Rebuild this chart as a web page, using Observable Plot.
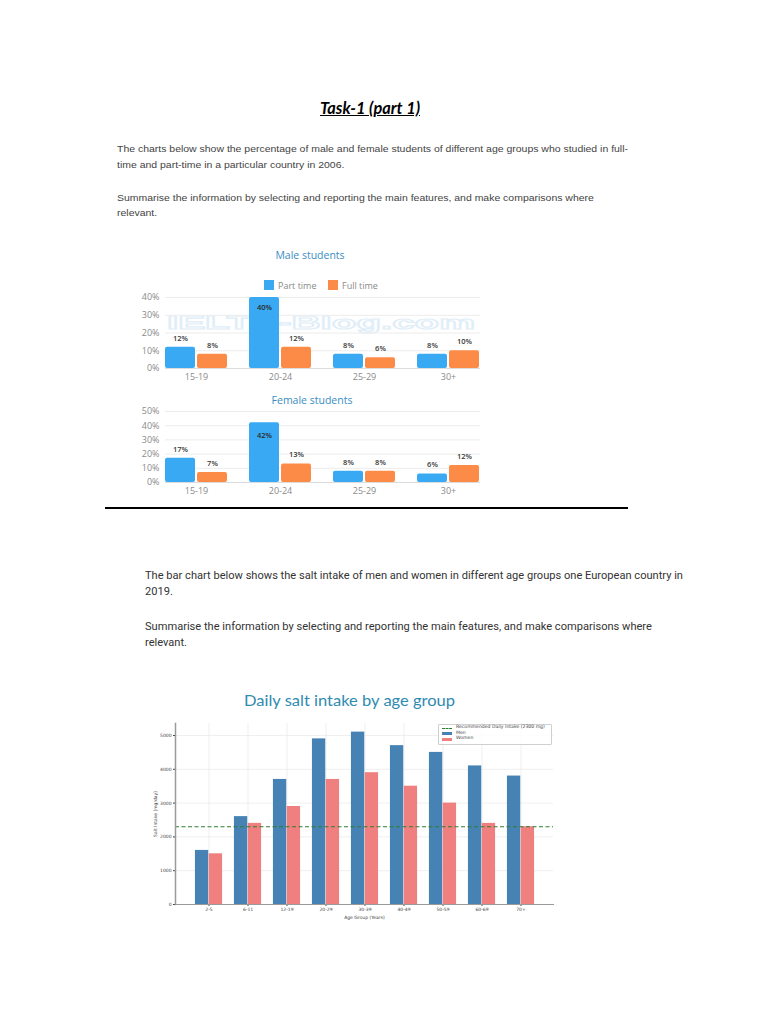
<!DOCTYPE html>
<html><head><meta charset="utf-8">
<script src="https://cdn.jsdelivr.net/npm/d3@7"></script>
<script src="https://cdn.jsdelivr.net/npm/@observablehq/plot@0.6"></script>
<style>
body{margin:0;background:#fff;}
#page{position:relative;width:768px;height:1024px;overflow:hidden;background:#fff;}
.abs{position:absolute;white-space:nowrap;}
.chart{position:absolute;}
</style></head><body><div id="page"></div>
<script>
// ---- data: student charts ----
const ageGroups = ["15-19", "20-24", "25-29", "30+"];
const studentSeries = ["Part time", "Full time"];
const malePartTime = [12, 40, 8, 8];
const maleFullTime = [8, 12, 6, 10];
const femalePartTime = [17, 42, 8, 6];
const femaleFullTime = [7, 13, 8, 12];
const maleTicks = [0, 10, 20, 30, 40];
const femaleTicks = [0, 10, 20, 30, 40, 50];

// ---- data: salt chart ----
const saltAgeGroups = ["2-5", "6-11", "12-19", "20-29", "30-39", "40-49", "50-59", "60-69", "70+"];
const menIntake = [1600, 2600, 3700, 4900, 5100, 4700, 4500, 4100, 3800];
const womenIntake = [1500, 2400, 2900, 3700, 3900, 3500, 3000, 2400, 2300];
const recommendedIntake = 2300;
const saltTicks = [0, 1000, 2000, 3000, 4000, 5000];

const page = document.getElementById("page");

function putText(txt, o) {
  const d = document.createElement("div");
  d.className = "abs";
  d.textContent = txt;
  const size = o.size;
  Object.assign(d.style, {
    fontSize: size + "px", lineHeight: size + "px",
    fontFamily: o.family || "'Liberation Sans', Arial, sans-serif",
    color: o.color || "#333", fontWeight: o.weight || "normal",
    fontStyle: o.style || "normal", textDecoration: o.deco || "none",
    top: (o.y - size * 0.55) + "px"
  });
  if (o.extra) Object.assign(d.style, o.extra);
  page.appendChild(d);
  const w = d.getBoundingClientRect().width;
  const s = o.scale != null ? o.scale : (o.width ? o.width / w : 1);
  d.style.left = (o.center ? o.x - w * s / 2 : o.x) + "px";
  d.style.transformOrigin = "0 50%";
  d.style.transform = `scaleX(${s})`;
  return s;
}

function place(el, left, top) {
  el.classList.add("chart");
  el.style.left = left + "px";
  el.style.top = top + "px";
  page.appendChild(el);
}

// ---- document text, part 1 ----
putText("Task-1 (part 1)", {x: 370, y: 108, size: 17, center: true, width: 100, color: "#000",
  family: "Lato, 'Open Sans', sans-serif", weight: "bold", style: "italic", deco: "underline"});
let s1 = putText("The charts below show the percentage of male and female students of different age groups who studied in full-",
  {x: 117, y: 149, size: 9.5, width: 511, color: "#444"});
putText("time and part-time in a particular country in 2006.", {x: 117, y: 165, size: 9.5, scale: s1, color: "#444"});
putText("Summarise the information by selecting and reporting the main features, and make comparisons where",
  {x: 117, y: 198, size: 9.5, scale: s1, color: "#444"});
putText("relevant.", {x: 117, y: 213, size: 9.5, scale: s1, color: "#444"});

// ---- watermark (faint, behind the male chart) ----
putText("IELTS-Blog.com", {x: 167, y: 323, size: 19, width: 308, color: "rgba(255,255,255,0)", weight: "bold",
  extra: {webkitTextStroke: "1.2px #dfeef8"}});

// ---- student charts ----
const barColors = {"Part time": "#39a9f3", "Full time": "#fc8b47"};

function studentChart(part, full, ticks, height, marginTop, maxDy) {
  const data = ageGroups.flatMap((g, i) => [
    {age: g, series: studentSeries[0], value: part[i]},
    {age: g, series: studentSeries[1], value: full[i]}
  ]);
  const vmax = d3.max(data, d => d.value);
  const outer = 11, barW = 30, gap = 2, step = 84;
  const marks = [
    Plot.gridY(ticks, {stroke: "#ececec", strokeOpacity: 1, insetLeft: outer, insetRight: outer - 1}),
    Plot.ruleY([0], {stroke: "#dcdcdc", insetLeft: outer, insetRight: outer - 1}),
    Plot.axisY(ticks, {tickSize: 0, tickPadding: -5, tickFormat: d => d + "%", fontSize: 9, color: "#8a8a8a", label: null}),
    Plot.axisX({tickSize: 0, tickPadding: 5, fontSize: 9, color: "#8a8a8a", label: null})
  ];
  studentSeries.forEach((s, k) => {
    const il = outer + k * (barW + gap);
    const ir = step - il - barW;
    const sub = data.filter(d => d.series === s);
    marks.push(Plot.barY(sub, {x: "age", y: "value", fill: barColors[s], insetLeft: il, insetRight: ir, rx: 2}));
    const dx = (il + barW / 2) - step / 2;
    marks.push(Plot.text(sub.filter(d => d.value !== vmax), {x: "age", y: "value", text: d => d.value + "%",
      dx, dy: -9, fontSize: 7.5, fill: "#3a3a3a", fontWeight: 600}));
    marks.push(Plot.text(sub.filter(d => d.value === vmax), {x: "age", y: "value", text: d => d.value + "%",
      dx, dy: maxDy, fontSize: 7.5, fill: "#2a2a2a", fontWeight: 600}));
  });
  return Plot.plot({
    width: 380, height, marginLeft: 34, marginRight: 10, marginTop, marginBottom: 22,
    style: {fontFamily: "'Open Sans', sans-serif", background: "transparent"},
    x: {domain: ageGroups, padding: 0},
    y: {domain: [0, ticks[ticks.length - 1]]},
    marks
  });
}

putText("Male students", {x: 310, y: 256, size: 10.5, center: true, color: "#3a8dc4", family: "'Open Sans', sans-serif"});
function legendItem(x, color, label) {
  const sq = document.createElement("div");
  Object.assign(sq.style, {position: "absolute", left: x + "px", top: "280px", width: "10px", height: "10px", background: color});
  page.appendChild(sq);
  putText(label, {x: x + 14, y: 285.5, size: 9, color: "#8a8a8a", family: "'Open Sans', sans-serif"});
}
legendItem(264, barColors["Part time"], "Part time");
legendItem(328, barColors["Full time"], "Full time");

place(studentChart(malePartTime, maleFullTime, maleTicks, 100, 7, 10), 120, 290);
putText("Female students", {x: 312, y: 401, size: 10.5, center: true, color: "#3a8dc4", family: "'Open Sans', sans-serif"});
place(studentChart(femalePartTime, femaleFullTime, femaleTicks, 100, 7, 13), 120, 404);

// separator line
const hr = document.createElement("div");
Object.assign(hr.style, {position: "absolute", left: "105px", top: "507px", width: "523px", height: "2px", background: "#000"});
page.appendChild(hr);

// ---- document text, part 2 ----
const f2 = "Roboto, 'Liberation Sans', sans-serif";
let s3 = putText("The bar chart below shows the salt intake of men and women in different age groups one European country in",
  {x: 145, y: 577, size: 10.5, width: 538, color: "#333", family: f2});
putText("2019.", {x: 145, y: 593, size: 10.5, scale: s3, color: "#333", family: f2});
putText("Summarise the information by selecting and reporting the main features, and make comparisons where",
  {x: 145, y: 628, size: 10.5, scale: s3, color: "#333", family: f2});
putText("relevant.", {x: 145, y: 644, size: 10.5, scale: s3, color: "#333", family: f2});

// ---- salt chart ----
putText("Daily salt intake by age group", {x: 349, y: 701, size: 15, center: true, width: 211, color: "#2f8bb0",
  family: "Lato, 'Open Sans', sans-serif"});

const saltData = saltAgeGroups.map((g, i) => ({age: g, men: menIntake[i], women: womenIntake[i]}));
const sW = 440, sML = 45, sMR = 17, pOuter = 0.285;
const sStep = (sW - sML - sMR) / (saltAgeGroups.length + 2 * pOuter);
const sBar = 0.35 * sStep;
const half = sStep / 2;
const saltChart = Plot.plot({
  width: sW, height: 210, marginLeft: sML, marginRight: sMR, marginTop: 8, marginBottom: 21,
  style: {fontFamily: "'DejaVu Sans', sans-serif", background: "transparent"},
  x: {domain: saltAgeGroups, paddingInner: 0, paddingOuter: pOuter},
  y: {domain: [0, 5355]},
  marks: [
    Plot.gridY(saltTicks, {stroke: "#e4e4e4", strokeOpacity: 1, strokeWidth: 0.6}),
    Plot.gridX({stroke: "#e4e4e4", strokeOpacity: 1, strokeWidth: 0.6}),
    Plot.barY(saltData, {x: "age", y: "men", fill: "#4682b4", insetLeft: half - sBar, insetRight: half}),
    Plot.barY(saltData, {x: "age", y: "women", fill: "#f08080", insetLeft: half, insetRight: half - sBar}),
    Plot.ruleY([recommendedIntake], {stroke: "#2e7d32", strokeWidth: 1, strokeDasharray: "4,2.5"}),
    Plot.axisY(saltTicks, {tickSize: 2, tickPadding: 2, fontSize: 4.5, color: "#444", tickFormat: d => String(d),
      label: "Salt Intake (mg/day)", labelAnchor: "center", labelArrow: "none", labelOffset: 22}),
    Plot.axisX({tickSize: 2, tickPadding: 1.5, fontSize: 4.5, color: "#444",
      label: "Age Group (Years)", labelAnchor: "center", labelArrow: "none", labelOffset: 14}),
    Plot.frame({anchor: "left", stroke: "#9a9a9a", strokeWidth: 1.5}),
    Plot.frame({anchor: "bottom", stroke: "#9a9a9a", strokeWidth: 1})
  ]
});
place(saltChart, 130, 715);

// salt legend
const lg = document.createElement("div");
Object.assign(lg.style, {position: "absolute", left: "438px", top: "724px", width: "112px", height: "19px",
  border: "0.6px solid #d0d0d0", background: "rgba(255,255,255,0.85)", borderRadius: "1px"});
page.appendChild(lg);
const lgItems = [
  {label: "Recommended Daily Intake (2300 mg)", type: "dash", color: "#2e7d32", y: 728},
  {label: "Men", type: "bar", color: "#4682b4", y: 733.5},
  {label: "Women", type: "bar", color: "#f08080", y: 739}
];
lgItems.forEach(it => {
  const sw = document.createElement("div");
  if (it.type === "dash") {
    Object.assign(sw.style, {position: "absolute", left: "442px", top: (it.y - 0.5) + "px", width: "10px", height: "0",
      borderTop: "1px dashed " + it.color});
  } else {
    Object.assign(sw.style, {position: "absolute", left: "442px", top: (it.y - 1.5) + "px", width: "10px", height: "3px",
      background: it.color});
  }
  page.appendChild(sw);
  putText(it.label, {x: 456, y: it.y, size: 4.6, color: "#444", family: "'DejaVu Sans', sans-serif"});
});
</script></body></html>
